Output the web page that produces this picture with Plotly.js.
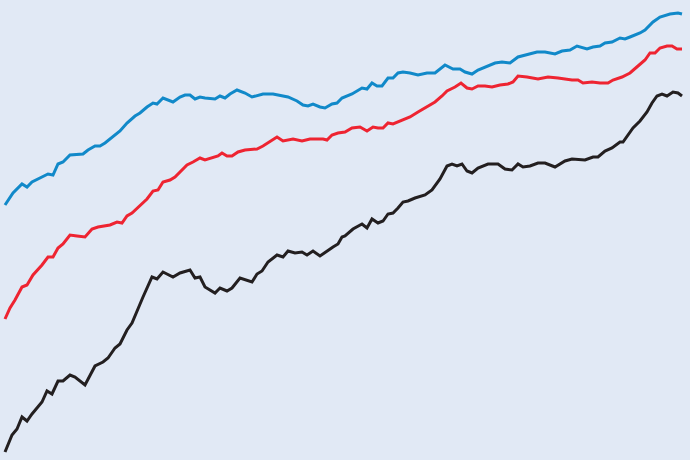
<!DOCTYPE html>
<html>
<head>
<meta charset="utf-8">
<script src="https://cdn.plot.ly/plotly-3.0.1.min.js"></script>
<style>html,body{margin:0;padding:0;background:#e1e9f5;}#chart{width:690px;height:460px;}</style>
</head>
<body>
<div id="chart"></div>
<script>
// Time positions (arbitrary units) and values (higher = larger)
const blueX = [5,13,22,27,32,43,48,53,58,63,70,83,88,95,100,105,112,120,127,135,140,147,153,157,163,173,180,185,190,195,200,205,215,220,225,230,237,245,252,263,273,282,288,297,303,308,313,320,325,332,337,342,345,352,362,367,372,377,382,388,393,398,403,410,418,427,435,445,453,460,465,472,478,487,495,502,510,518,528,537,545,555,562,570,577,587,593,600,605,612,620,625,630,640,645,653,660,670,678,682];
const blueY = [205,193,184,187,182,177,174,175,164,162,155,154,150,146,146,143,137,131,123,116,113,107,103,104,98,102,97,95,95,99,97,98,99,96,98,94,90,93,97,94,94,96,97,101,105,106,104,107,108,104,103,98,97,94,88,89,83,86,86,78,78,73,72,73,75,73,73,65,69,69,72,74,70,66,63,62,63,57,54,52,52,54,51,50,46,49,47,46,43,42,38,39,37,33,30,22,17,14,13,14];

const redX = [5,10,15,22,27,33,42,48,53,58,63,70,77,85,92,98,110,117,122,127,132,138,147,153,158,163,170,175,182,187,193,200,205,212,218,222,227,232,238,245,257,263,268,277,283,293,302,310,323,327,332,338,345,352,360,367,373,378,383,388,393,400,410,418,427,435,442,447,455,461,467,472,478,485,492,500,508,513,518,527,538,548,558,572,578,583,592,600,608,613,622,630,638,645,650,655,660,667,672,677,682];
const redY = [319,308,300,287,285,275,265,257,257,248,244,235,236,237,229,227,225,222,223,216,213,207,199,191,190,182,180,177,170,165,162,158,160,158,156,153,156,156,152,150,149,146,143,137,141,139,141,139,139,140,135,133,132,128,127,131,127,128,128,123,124,121,117,112,107,102,96,91,87,83,88,89,86,86,87,85,84,82,76,77,79,77,78,80,80,83,82,83,83,80,77,73,66,60,53,53,48,46,46,49,49];

const blackX = [5,12,17,22,27,32,42,47,52,58,63,70,75,85,95,103,108,115,120,127,132,137,143,152,157,163,173,180,190,195,200,205,215,220,227,232,240,252,257,262,268,277,283,288,295,302,307,313,320,333,338,342,345,353,362,367,372,378,383,388,393,398,403,408,415,425,432,440,447,452,457,462,467,472,478,488,498,505,512,518,523,530,538,545,555,565,572,585,593,598,605,612,620,623,628,633,640,647,652,657,662,667,673,678,682];
const blackY = [452,435,429,417,421,414,402,391,394,381,381,375,377,385,366,362,358,348,344,330,323,312,297,277,279,272,277,273,270,278,277,287,293,288,291,288,278,282,274,271,262,255,257,251,253,252,255,251,256,247,244,237,236,229,224,228,219,223,221,214,213,208,202,201,198,195,190,179,166,164,166,164,171,173,168,164,164,169,170,164,167,166,163,163,167,161,159,160,157,157,151,148,142,142,135,128,121,112,103,96,94,96,92,93,96];

const H = 460;
const toVal = arr => arr.map(v => H - v);

const series = [
  {x: blueX, y: blueY, color: '#1189c9'},
  {x: redX, y: redY, color: '#ee2431'},
  {x: blackX, y: blackY, color: '#231f20'}
];

const data = series.map(s => ({
  type: 'scatter', mode: 'lines',
  x: s.x, y: toVal(s.y),
  line: {color: s.color, width: 3, shape: 'linear'},
  hoverinfo: 'skip'
}));

const layout = {
  width: 690, height: 460,
  margin: {l: 0, r: 0, t: 0, b: 0},
  paper_bgcolor: '#e1e9f5', plot_bgcolor: '#e1e9f5',
  showlegend: false,
  xaxis: {range: [0, 690], visible: false, fixedrange: true},
  yaxis: {range: [0, 460], visible: false, fixedrange: true}
};

Plotly.newPlot('chart', data, layout, {displayModeBar: false, staticPlot: true});
</script>
</body>
</html>
